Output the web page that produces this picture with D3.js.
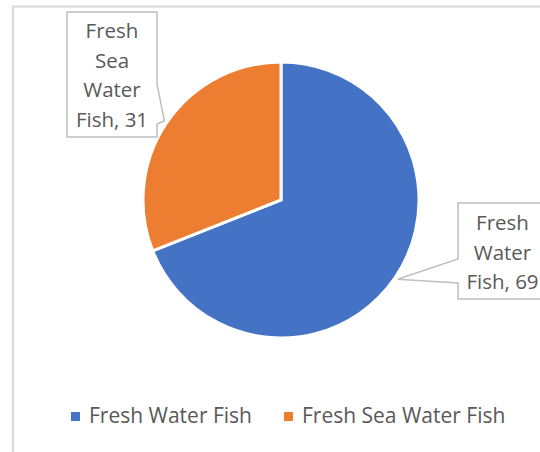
<!DOCTYPE html>
<html>
<head>
  <meta charset="utf-8">
  <script src="https://d3js.org/d3.v7.min.js"></script>
  <style>
    body { margin: 0; background: #fff; }
    text { font-family: "Open Sans", sans-serif; fill: #595959; }
  </style>
</head>
<body>
<svg id="chart"></svg>
<script>
  // data
  var categories = ["Fresh Water Fish", "Fresh Sea Water Fish"];
  var values = [69, 31];
  var colors = ["#4472C4", "#ED7D31"];
  // data label lines as wrapped in the callouts
  var labelLines = [["Fresh", "Water", "Fish, 69"], ["Fresh", "Sea", "Water", "Fish, 31"]];

  var width = 540, height = 452;
  var svg = d3.select("#chart").attr("width", width).attr("height", height);

  // chart frame (right and bottom edges fall outside the window)
  svg.append("rect")
    .attr("x", 13).attr("y", 6.5)
    .attr("width", 560).attr("height", 480)
    .attr("fill", "#fff").attr("stroke", "#d9d9d9").attr("stroke-width", 2);

  var cx = 281, cy = 200, r = 138;
  var data = categories.map(function (c, i) { return { name: c, value: values[i], color: colors[i], lines: labelLines[i] }; });

  var pie = d3.pie().sort(null).value(function (d) { return d.value; });
  var arc = d3.arc().innerRadius(0).outerRadius(r);
  var tipArc = d3.arc().innerRadius(r + 3).outerRadius(r + 3);

  var g = svg.append("g").attr("transform", "translate(" + cx + "," + cy + ")");
  var arcs = pie(data);

  g.selectAll("path.slice")
    .data(arcs)
    .enter().append("path")
    .attr("class", "slice")
    .attr("d", arc)
    .attr("fill", function (d) { return d.data.color; })
    .attr("stroke", "#fff")
    .attr("stroke-width", 3)
    .attr("stroke-linejoin", "miter");

  // callout boxes: box geometry per label (absolute), pointer goes to arc mid point
  var boxes = [
    { left: 458, top: 203, right: 547, bottom: 299, side: "left", w1: 259, w2: 283, firstBase: 230 },
    { left: 67, top: 12, right: 157, bottom: 137, side: "right", w1: 84, w2: 124, firstBase: 38 }
  ];
  var lineH = 29.7;

  arcs.forEach(function (a, i) {
    var b = boxes[i];
    var t = tipArc.centroid(a);
    var tx = cx + t[0], ty = cy + t[1];
    var p = d3.path();
    if (b.side === "left") {
      p.moveTo(b.left, b.top);
      p.lineTo(b.right, b.top);
      p.lineTo(b.right, b.bottom);
      p.lineTo(b.left, b.bottom);
      p.lineTo(b.left, b.w2);
      p.lineTo(tx, ty);
      p.lineTo(b.left, b.w1);
      p.closePath();
    } else {
      p.moveTo(b.left, b.top);
      p.lineTo(b.right, b.top);
      p.lineTo(b.right, b.w1);
      p.lineTo(tx, ty);
      p.lineTo(b.right, b.w2);
      p.lineTo(b.right, b.bottom);
      p.lineTo(b.left, b.bottom);
      p.closePath();
    }
    svg.append("path")
      .attr("d", p.toString())
      .attr("fill", "#fff")
      .attr("stroke", "#bfbfbf")
      .attr("stroke-width", 1.5);

    var txt = svg.append("text")
      .attr("text-anchor", "middle")
      .attr("font-size", 20.5);
    a.data.lines.forEach(function (l, k) {
      txt.append("tspan")
        .attr("x", (b.left + b.right) / 2)
        .attr("y", b.firstBase + k * lineH)
        .text(l);
    });
  });

  // legend
  var legend = svg.append("g").attr("transform", "translate(71,412)");
  var lx = 0;
  data.forEach(function (d) {
    var item = legend.append("g").attr("transform", "translate(" + lx + ",0)");
    item.append("rect").attr("width", 9).attr("height", 9).attr("fill", d.color);
    var t = item.append("text")
      .attr("x", 18).attr("y", 11)
      .attr("font-size", 21)
      .text(d.name);
    lx += 18 + t.node().getComputedTextLength() + 32;
  });
</script>
</body>
</html>
